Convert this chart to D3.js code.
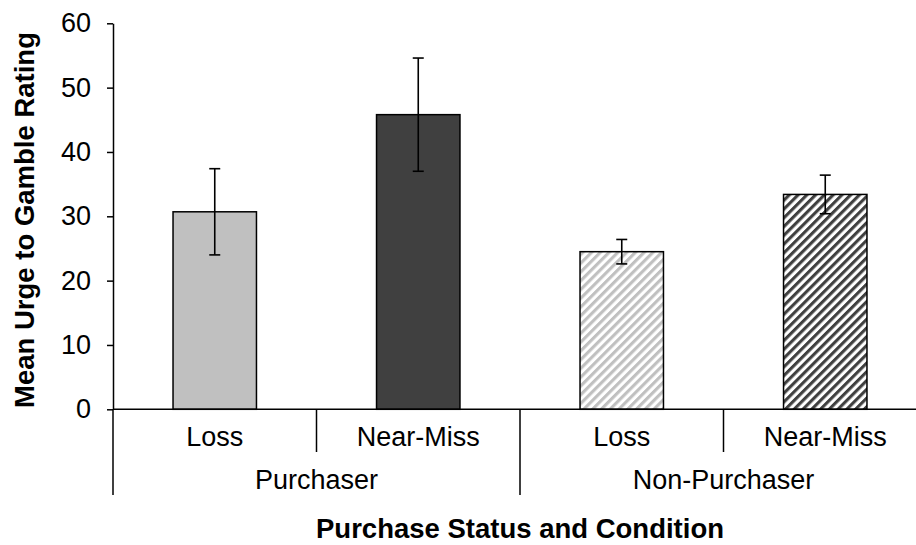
<!DOCTYPE html>
<html>
<head>
<meta charset="utf-8">
<script src="https://cdn.jsdelivr.net/npm/d3@7"></script>
<style>
  body { margin: 0; background: #fff; }
  text { font-family: "Liberation Sans", Arial, sans-serif; fill: #000; }
</style>
</head>
<body>
<svg id="chart" width="916" height="545"></svg>
<script>
// data
var groups = ["Purchaser", "Non-Purchaser"];
var conditions = ["Loss", "Near-Miss"];
var means = [30.7, 45.8, 24.5, 33.4];
var errors = [6.7, 8.8, 1.9, 3.0];
var yTicks = [0, 10, 20, 30, 40, 50, 60];

var fills = ["#c0c0c0", "#404040", "url(#hatchLight)", "url(#hatchDark)"];

var svg = d3.select("#chart");
var plotLeft = 113, plotRight = 927, plotTop = 23.3, plotZero = 409.3;

// hatch patterns
var defs = svg.append("defs");
[["hatchLight", "#c0c0c0"], ["hatchDark", "#404040"]].forEach(function (p) {
  var pat = defs.append("pattern")
    .attr("id", p[0])
    .attr("patternUnits", "userSpaceOnUse")
    .attr("width", 6.2).attr("height", 6.2)
    .attr("patternTransform", "rotate(45)");
  pat.append("rect").attr("width", 6.2).attr("height", 6.2).attr("fill", "#fff");
  pat.append("rect").attr("width", 3.1).attr("height", 6.2).attr("fill", p[1]);
});

var bars = [];
groups.forEach(function (g, gi) {
  conditions.forEach(function (c, ci) {
    var i = gi * conditions.length + ci;
    bars.push({ key: i, group: g, cond: c, mean: means[i], err: errors[i], fill: fills[i] });
  });
});

var y = d3.scaleLinear().domain([0, 60]).range([plotZero, plotTop]);
var x = d3.scaleBand().domain(bars.map(function (d) { return d.key; })).range([plotLeft, plotRight]).padding(0);
var xg = d3.scaleBand().domain(groups).range([plotLeft, plotRight]).padding(0);
var barW = x.bandwidth() * 0.41;

// y axis
var yAxis = svg.append("g")
  .attr("transform", "translate(" + plotLeft + ",0)")
  .call(d3.axisLeft(y).tickValues(yTicks).tickSize(6).tickSizeOuter(0).tickPadding(16));
yAxis.select(".domain").attr("stroke", "#000").attr("stroke-width", 1.5);
yAxis.selectAll(".tick line").attr("stroke", "#000").attr("stroke-width", 1.5);
yAxis.selectAll(".tick text")
  .attr("font-size", 27).attr("font-family", "Liberation Sans, Arial, sans-serif").attr("fill", "#000");

// bars
svg.selectAll("rect.bar").data(bars).enter().append("rect")
  .attr("class", "bar")
  .attr("x", function (d) { return x(d.key) + (x.bandwidth() - barW) / 2; })
  .attr("y", function (d) { return y(d.mean); })
  .attr("width", barW)
  .attr("height", function (d) { return y(0) - y(d.mean); })
  .attr("fill", function (d) { return d.fill; })
  .attr("stroke", "#000")
  .attr("stroke-width", 1.5);

// error bars
var eb = svg.selectAll("g.err").data(bars).enter().append("g").attr("class", "err")
  .attr("stroke", "#000").attr("stroke-width", 1.6);
eb.append("line")
  .attr("x1", function (d) { return x(d.key) + x.bandwidth() / 2; })
  .attr("x2", function (d) { return x(d.key) + x.bandwidth() / 2; })
  .attr("y1", function (d) { return y(d.mean + d.err); })
  .attr("y2", function (d) { return y(d.mean - d.err); });
[1, -1].forEach(function (s) {
  eb.append("line")
    .attr("x1", function (d) { return x(d.key) + x.bandwidth() / 2 - 5.5; })
    .attr("x2", function (d) { return x(d.key) + x.bandwidth() / 2 + 5.5; })
    .attr("y1", function (d) { return y(d.mean + s * d.err); })
    .attr("y2", function (d) { return y(d.mean + s * d.err); });
});

// x axis line and separators
svg.append("line")
  .attr("x1", plotLeft).attr("x2", plotRight).attr("y1", y(0)).attr("y2", y(0))
  .attr("stroke", "#000").attr("stroke-width", 1.5);

var groupEdges = groups.map(function (g) { return xg(g); }).concat([plotRight]);
svg.selectAll("line.gsep").data(groupEdges).enter().append("line")
  .attr("x1", function (d) { return d; }).attr("x2", function (d) { return d; })
  .attr("y1", y(0)).attr("y2", 495)
  .attr("stroke", "#000").attr("stroke-width", 1.5);

var condEdges = groups.map(function (g) { return xg(g) + xg.bandwidth() / 2; });
svg.selectAll("line.csep").data(condEdges).enter().append("line")
  .attr("x1", function (d) { return d; }).attr("x2", function (d) { return d; })
  .attr("y1", y(0)).attr("y2", 452)
  .attr("stroke", "#000").attr("stroke-width", 1.5);

// category labels
svg.selectAll("text.cond").data(bars).enter().append("text")
  .attr("x", function (d) { return x(d.key) + x.bandwidth() / 2; })
  .attr("y", 446)
  .attr("text-anchor", "middle")
  .attr("font-size", 27)
  .text(function (d) { return d.cond; });

svg.selectAll("text.grp").data(groups).enter().append("text")
  .attr("x", function (d) { return xg(d) + xg.bandwidth() / 2; })
  .attr("y", 489)
  .attr("text-anchor", "middle")
  .attr("font-size", 27)
  .text(function (d) { return d; });

// axis titles
svg.append("text")
  .attr("x", (plotLeft + plotRight) / 2).attr("y", 538)
  .attr("text-anchor", "middle")
  .attr("font-size", 27.5).attr("font-weight", "bold")
  .text("Purchase Status and Condition");

svg.append("text")
  .attr("transform", "translate(33.5," + (33 + 407) / 2 + ") rotate(-90)")
  .attr("text-anchor", "middle")
  .attr("font-size", 27.5).attr("font-weight", "bold")
  .text("Mean Urge to Gamble Rating");
</script>
</body>
</html>
